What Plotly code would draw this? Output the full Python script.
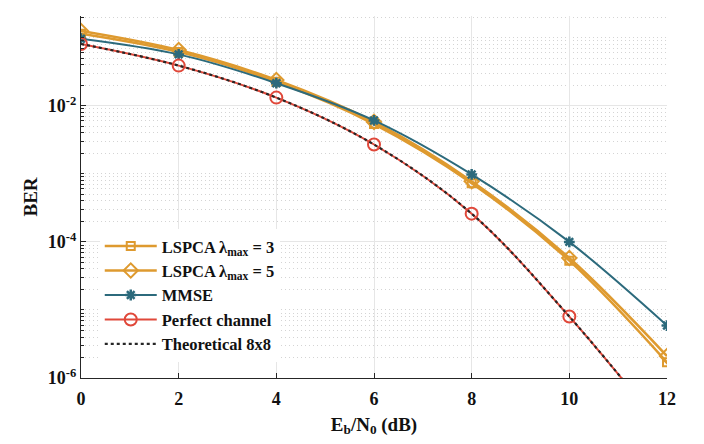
import plotly.graph_objects as go

ebn0_db = [0, 2, 4, 6, 8, 10, 12]
ber_lspca3 = [0.115, 0.062, 0.0225, 0.0054, 7.3e-4, 5.3e-5, 1.7e-6]
ber_lspca5 = [0.126, 0.066, 0.0240, 0.0058, 7.8e-4, 5.8e-5, 2.1e-6]
ber_mmse = [0.097, 0.057, 0.0215, 0.0061, 9.8e-4, 1.0e-4, 5.9e-6]
ber_perfect = [0.081, 0.039, 0.0132, 0.0027, 2.6e-4, 8.0e-6, 1.5e-7]
ber_theory = [0.081, 0.039, 0.0132, 0.0027, 2.6e-4, 8.0e-6, 1.5e-7]

names = ["<b>LSPCA λ<sub>max</sub> = 3</b>", "<b>LSPCA λ<sub>max</sub> = 5</b>",
         "<b>MMSE</b>", "<b>Perfect channel</b>", "<b>Theoretical 8x8</b>"]

ORANGE = "#DE9A2F"
TEAL = "#2C6A7C"
RED = "#E0483A"

fig = go.Figure()
fig.add_trace(go.Scatter(x=ebn0_db, y=ber_lspca3, name=names[0], mode="lines+markers",
                         line=dict(color=ORANGE, width=2.5, shape="spline"),
                         marker=dict(symbol="square-open", size=8, color=ORANGE, line=dict(width=2, color=ORANGE))))
fig.add_trace(go.Scatter(x=ebn0_db, y=ber_lspca5, name=names[1], mode="lines+markers",
                         line=dict(color=ORANGE, width=2.5, shape="spline"),
                         marker=dict(symbol="diamond-open", size=11, color=ORANGE, line=dict(width=2, color=ORANGE))))
fig.add_trace(go.Scatter(x=ebn0_db, y=ber_mmse, name=names[2], mode="lines+markers",
                         line=dict(color=TEAL, width=2, shape="spline"),
                         marker=dict(symbol="asterisk-open", size=9, color=TEAL, line=dict(width=2.5, color=TEAL))))
fig.add_trace(go.Scatter(x=ebn0_db, y=ber_perfect, name=names[3], mode="lines+markers",
                         line=dict(color=RED, width=2, shape="spline"),
                         marker=dict(symbol="circle-open", size=12, color=RED, line=dict(width=2, color=RED))))
fig.add_trace(go.Scatter(x=ebn0_db, y=ber_theory, name=names[4], mode="lines",
                         line=dict(color="#262626", width=2.2, dash="dot", shape="spline")))

minor_vals = [m * 10.0 ** d for d in range(-6, 0) for m in range(2, 10)]
minor_vals += [10.0 ** d for d in (-5, -3, -1)]

FONT = "Liberation Serif"
fig.update_layout(
    width=704, height=444,
    margin=dict(l=73, r=45, t=8, b=74),
    paper_bgcolor="white", plot_bgcolor="white",
    font=dict(family=FONT, size=16, color="#111"),
    showlegend=True,
    legend=dict(x=0.032, y=0.412, xanchor="left", yanchor="top",
                bgcolor="white", borderwidth=0,
                font=dict(family=FONT, size=16.5, color="#111"),
                itemwidth=52, tracegroupgap=0),
    xaxis=dict(range=[0, 12], tickvals=[0, 2, 4, 6, 8, 10, 12],
               ticktext=["<b>%d</b>" % v for v in [0, 2, 4, 6, 8, 10, 12]],
               showline=True, linecolor="#262626", linewidth=1.2,
               ticks="inside", ticklen=5, tickcolor="#262626", automargin=False,
               ticklabelstandoff=4,
               showgrid=True, gridcolor="#E6E6E6", gridwidth=1, zeroline=False,
               tickfont=dict(family=FONT, size=18, color="#111"),
               title=dict(text="<b>E<sub>b</sub>/N<sub>0</sub> (dB)</b>", standoff=9,
                          font=dict(family=FONT, size=19, color="#111"))),
    yaxis=dict(type="log", range=[-6, -0.68],
               tickvals=[1e-6, 1e-4, 1e-2],
               ticktext=["<b>10<sup>-6</sup></b>", "<b>10<sup>-4</sup></b>", "<b>10<sup>-2</sup></b>"],
               showline=True, linecolor="#262626", linewidth=1.2,
               ticks="inside", ticklen=5, tickcolor="#262626", automargin=False,
               showgrid=True, gridcolor="#E6E6E6", gridwidth=1, zeroline=False,
               tickfont=dict(family=FONT, size=18, color="#111"),
               minor=dict(tickmode="array", tickvals=minor_vals, ticks="inside", ticklen=3,
                          tickcolor="#262626", showgrid=True, gridcolor="#D4D4D4",
                          griddash="1px,3px", gridwidth=1),
               title=dict(text="<b>BER</b>", standoff=5,
                          font=dict(family=FONT, size=19, color="#111"))),
)

fig.write_html("out.html")
